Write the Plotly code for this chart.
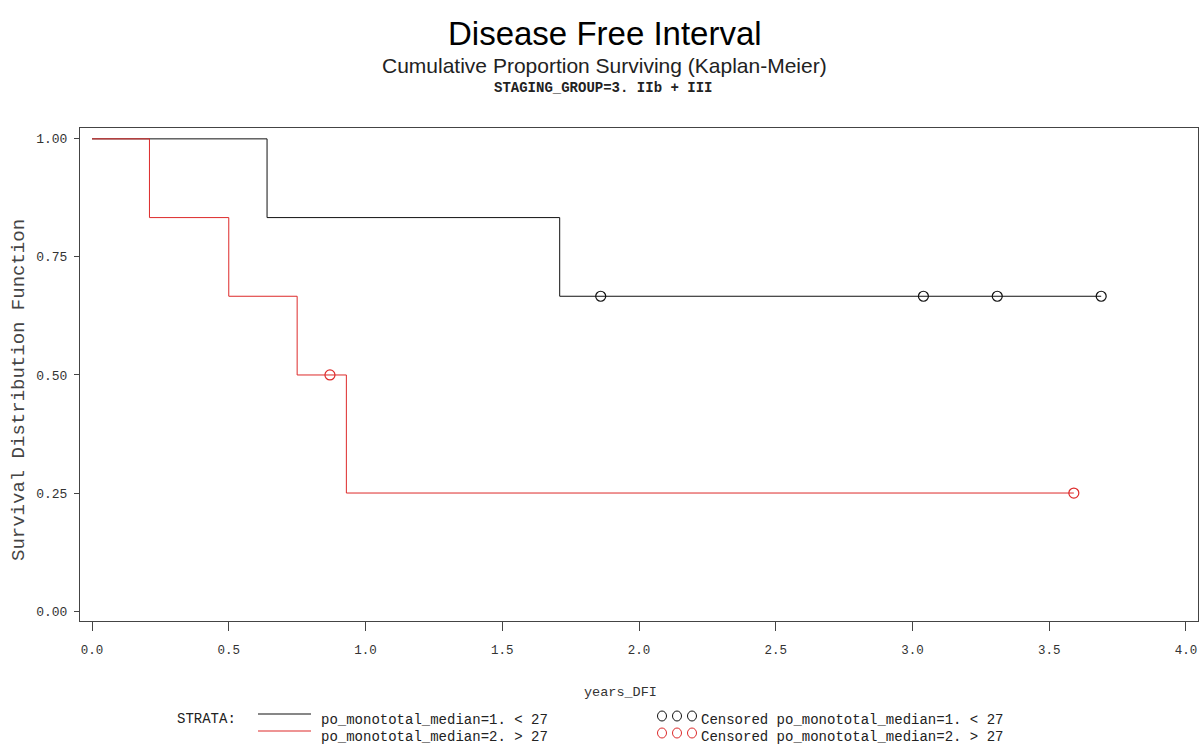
import plotly.graph_objects as go

# ---- data ----
black_times = [0.0, 0.64, 1.71, 3.69]
black_surv = [1.0, 0.8333, 0.6667, 0.6667]
black_cens_times = [1.86, 3.04, 3.31, 3.69]
black_cens_surv = [0.6667, 0.6667, 0.6667, 0.6667]

red_times = [0.0, 0.21, 0.50, 0.75, 0.93, 3.59]
red_surv = [1.0, 0.8333, 0.6667, 0.5, 0.25, 0.25]
red_cens_times = [0.87, 3.59]
red_cens_surv = [0.5, 0.25]

x_ticks = [0.0, 0.5, 1.0, 1.5, 2.0, 2.5, 3.0, 3.5, 4.0]
x_tick_labels = ["0.0", "0.5", "1.0", "1.5", "2.0", "2.5", "3.0", "3.5", "4.0"]
y_ticks = [0.0, 0.25, 0.5, 0.75, 1.0]
y_tick_labels = ["0.00", "0.25", "0.50", "0.75", "1.00"]

label1 = "po_monototal_median=1. < 27"
label2 = "po_monototal_median=2. > 27"

BLACK = "#111111"
RED = "#dd2a2a"
W, H = 1201, 747
L, R, T, B = 80, 1198, 128, 621

def px(x):
    return (x - L) / (R - L)

def py(y):
    return (B - y) / (B - T)

fig = go.Figure()
fig.add_trace(go.Scatter(x=black_times, y=black_surv, mode="lines", line_shape="hv",
                         line=dict(color=BLACK, width=1), showlegend=False, hoverinfo="skip"))
fig.add_trace(go.Scatter(x=red_times, y=red_surv, mode="lines", line_shape="hv",
                         line=dict(color=RED, width=1), showlegend=False, hoverinfo="skip"))
fig.add_trace(go.Scatter(x=black_cens_times, y=black_cens_surv, mode="markers",
                         marker=dict(symbol="circle-open", size=10, color=BLACK, line=dict(width=1.2)),
                         showlegend=False, hoverinfo="skip"))
fig.add_trace(go.Scatter(x=red_cens_times, y=red_cens_surv, mode="markers",
                         marker=dict(symbol="circle-open", size=10, color=RED, line=dict(width=1.2)),
                         showlegend=False, hoverinfo="skip"))

mono = "Liberation Mono"
fig.update_layout(
    width=W, height=H,
    margin=dict(l=L, r=W - R, t=T, b=H - B, autoexpand=False),
    paper_bgcolor="white", plot_bgcolor="white",
    xaxis=dict(range=[-0.044, 4.044], tickvals=x_ticks, ticktext=x_tick_labels,
               showgrid=False, zeroline=False, showline=True, mirror=True,
               linecolor="#444444", linewidth=1, ticks="outside", ticklen=9,
               tickcolor="#444444", ticklabelstandoff=8,
               tickfont=dict(family=mono, size=12.5, color="#333333")),
    yaxis=dict(range=[-0.021, 1.023], tickvals=y_ticks, ticktext=y_tick_labels,
               showgrid=False, zeroline=False, showline=True, mirror=True,
               linecolor="#444444", linewidth=1, ticks="outside", ticklen=5,
               tickcolor="#444444", ticklabelstandoff=4,
               tickfont=dict(family=mono, size=13, color="#333333")),
    showlegend=False,
)

def txt(text, x, y, size, family, color="#222222", xanchor="center", angle=0):
    return dict(text=text, x=px(x), y=py(y), xref="paper", yref="paper",
                xanchor=xanchor, yanchor="middle", showarrow=False, textangle=angle,
                font=dict(family=family, size=size, color=color))

ann = [
    txt("Disease Free Interval", 605, 34, 33, "Liberation Sans", "black"),
    txt("Cumulative Proportion Surviving (Kaplan-Meier)", 604, 65, 21, "Liberation Sans"),
    txt("<b>STAGING_GROUP=3. IIb + III</b>", 603, 88, 14, mono),
    txt("Survival Distribution Function", 19, 390, 19, mono, "#444444", angle=-90),
    txt("years_DFI", 620, 692, 13.5, mono, "#333333"),
    txt("STRATA:", 175, 719, 14, mono, xanchor="left"),
    txt(label1, 319, 720, 14, mono, xanchor="left"),
    txt(label2, 319, 737, 14, mono, xanchor="left"),
    txt("Censored " + label1, 699, 720, 14, mono, xanchor="left"),
    txt("Censored " + label2, 699, 737, 14, mono, xanchor="left"),
]
fig.update_layout(annotations=ann)

shapes = []
shapes.append(dict(type="line", xref="paper", yref="paper", x0=px(258), x1=px(311), y0=py(714), y1=py(714),
                   line=dict(color=BLACK, width=1.2)))
shapes.append(dict(type="line", xref="paper", yref="paper", x0=px(258), x1=px(311), y0=py(731), y1=py(731),
                   line=dict(color=RED, width=1.2)))
for cx in [662, 677, 692]:
    for cy, col in [(716, BLACK), (733, RED)]:
        shapes.append(dict(type="circle", xref="paper", yref="paper", xsizemode="pixel", ysizemode="pixel",
                           xanchor=px(cx), yanchor=py(cy), x0=-4.5, x1=4.5, y0=-5, y1=5,
                           line=dict(color=col, width=1)))
fig.update_layout(shapes=shapes)

fig.write_html("out.html", config={"displayModeBar": False},
               post_script="document.body.style.margin='0';document.body.style.overflow='hidden';")
